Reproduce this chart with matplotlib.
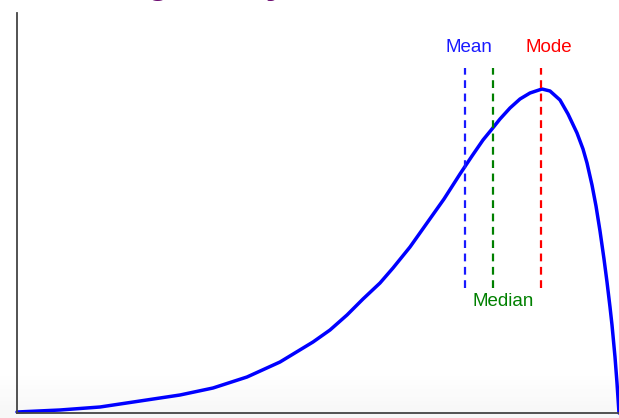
import numpy as np
import matplotlib
matplotlib.use('Agg')
import matplotlib.pyplot as plt

# curve (x: 0..602, density: 0..400, same scale as pixels)
curve_x = [0, 43, 83, 123, 163, 196, 230, 263, 296, 313, 330, 346, 363, 376,
           393, 410, 427, 443, 455, 466, 475, 483, 493, 503, 513, 525, 533,
           543, 551, 560, 566, 570, 575, 579, 583, 587, 590, 593, 595, 598,
           600, 602]
curve_y = [1, 3, 6, 12, 18, 25, 36, 51, 71, 83, 98, 114, 130, 145, 166, 190,
           214, 239, 257, 273, 284, 294, 305, 314, 320, 324, 322, 313, 299,
           280, 264, 250, 228, 207, 182, 154, 131, 106, 88, 56, 30, 0]

stat_names = ['Mean', 'Median', 'Mode']
stat_x = [448, 476, 524]
stat_colors = ['#1a1aff', '#008000', '#ff0000']
line_top, line_bottom = 345, 125

fig = plt.figure(figsize=(6.19, 4.18), dpi=100)

# faint grey band at the bottom of the slide
bg = fig.add_axes([0, 0, 1, 1], zorder=-1)
grad = np.ones((100, 2))
grad[:12] = np.linspace(0.965, 1.0, 12)[:, None]
bg.imshow(grad, cmap='gray', vmin=0, vmax=1, aspect='auto', origin='lower',
          extent=[0, 1, 0, 1])
bg.set_axis_off()

ax = fig.add_axes([17 / 619, 5 / 418, 602 / 619, 400 / 418])
ax.patch.set_alpha(0)
ax.plot(curve_x, curve_y, color='#0000ff', lw=2.5, solid_capstyle='round',
        solid_joinstyle='round', clip_on=False)

for name, x, c in zip(stat_names, stat_x, stat_colors):
    ax.plot([x, x], [line_bottom, line_top], color=c, lw=1.6,
            ls=(0, (3.5, 2.5)))

font = 'Liberation Sans'
ax.text(452, 366, 'Mean', color=stat_colors[0], ha='center', va='center',
        fontsize=13.5, family=font)
ax.text(532, 366, 'Mode', color=stat_colors[2], ha='center', va='center',
        fontsize=13.5, family=font)
ax.text(486, 111, 'Median', color=stat_colors[1], ha='center',
        va='center', fontsize=13.5, family=font)

ax.set_xlim(0, 602)
ax.set_ylim(0, 400)
ax.set_xticks([])
ax.set_yticks([])
for s in ['top', 'right']:
    ax.spines[s].set_visible(False)
for s in ['left', 'bottom']:
    ax.spines[s].set_color('#444444')
    ax.spines[s].set_linewidth(1.3)

# slide title, mostly cut off above the picture
fig.text(99 / 619, 1 + 7 / 418, 'Negatively Skewed', color='#6b0a70',
         fontsize=27, fontweight='bold', family=font, va='baseline')

fig.savefig('out.png', dpi=100)
